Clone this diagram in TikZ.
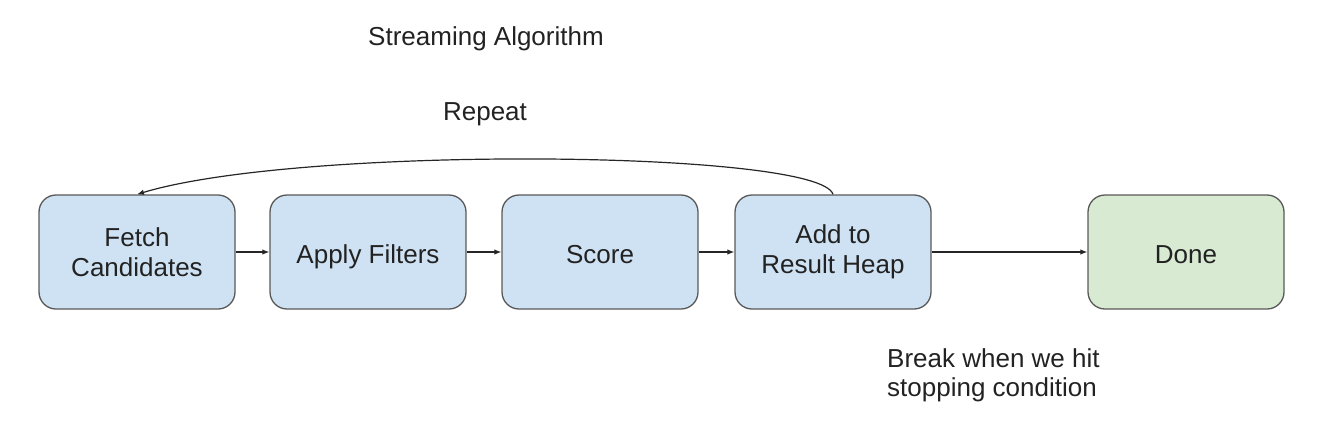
\documentclass[tikz,border=0pt]{standalone}
\usepackage{fontspec}
\setmainfont{Liberation Sans}
\usetikzlibrary{arrows.meta}
\definecolor{boxblue}{HTML}{CFE2F3}
\definecolor{boxgreen}{HTML}{D9EAD3}
\definecolor{edge}{HTML}{595959}
\definecolor{txt}{HTML}{222222}
\begin{document}
\begin{tikzpicture}[x=1pt,y=-1pt,
  stepbox/.style={draw=edge, line width=1.3pt, rounded corners=17pt,
    minimum width=196pt, minimum height=114pt, inner sep=0pt,
    align=center, text=txt, font=\fontsize{26}{30}\selectfont},
  oneline/.style={text height=23pt, text depth=0pt},
  lbl/.style={text=txt, font=\fontsize{26}{30}\selectfont, inner sep=0pt},
  conn/.style={draw=black!85, line width=1.2pt, -{Latex[length=7pt,width=5.5pt]}}]
\useasboundingbox (0,0) rectangle (1320,424);
\node[stepbox, fill=boxblue] (fetch) at (137,252) {Fetch\\Candidates};
\node[stepbox, oneline, fill=boxblue] (apply) at (368,252) {Apply Filters};
\node[stepbox, oneline, fill=boxblue] (score) at (600,252) {Score};
\node[stepbox, fill=boxblue] (add) at (833,252) {Add to\\Result Heap};
\node[stepbox, oneline, fill=boxgreen] (done) at (1186,252) {Done};
\node[lbl, anchor=base] (title) at (486,45) {Streaming Algorithm};
\node[lbl, anchor=base] (repeat) at (485,120) {Repeat};
\node[lbl, anchor=base west, align=left] (brk) at (887,367) {Break when we hit};
\node[lbl, anchor=base west, align=left] (brk2) at (887,396) {stopping condition};
\draw[conn] (fetch) -- (apply);
\draw[conn] (apply) -- (score);
\draw[conn] (score) -- (add);
\draw[conn] (add) -- (done);
\coordinate (ca) at (820,150);
\coordinate (cb) at (300,145);
\draw[conn] (add.north) .. controls (ca) and (cb) .. (fetch.north);
\end{tikzpicture}
\end{document}
